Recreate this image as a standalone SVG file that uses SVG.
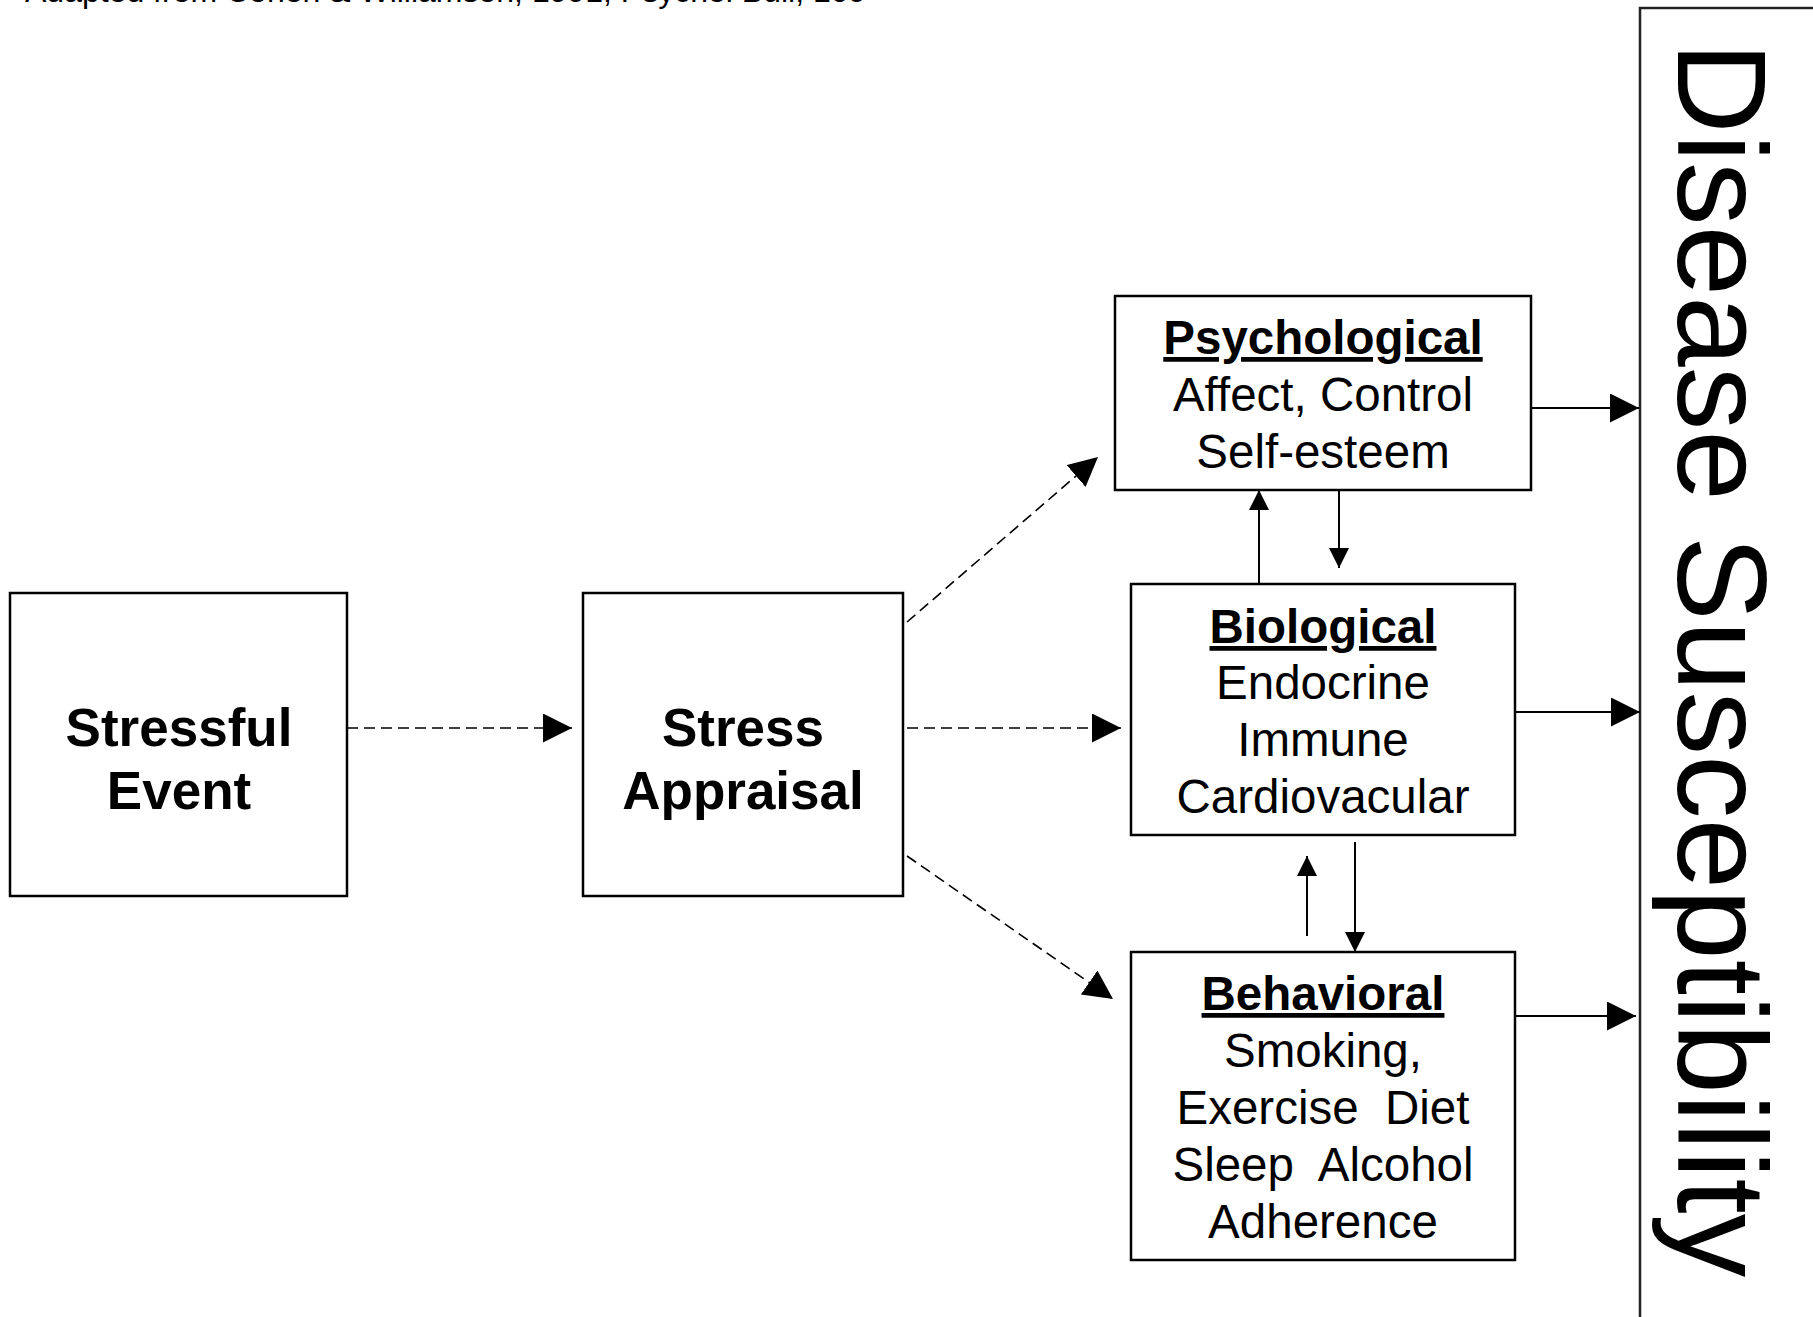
<svg xmlns="http://www.w3.org/2000/svg" width="1813" height="1317" viewBox="0 0 1813 1317">
  <style>
    .box { fill: #fff; stroke: #000; stroke-width: 2.5; }
    .t { font-family: "Liberation Sans", Arial, Helvetica, sans-serif; fill: #000; text-anchor: middle; }
    .big { font-size: 53px; font-weight: bold; }
    .hd { font-size: 47.5px; font-weight: bold; text-decoration: underline; }
    .it { font-size: 47.5px; }
    .dash { fill: none; stroke: #000; stroke-width: 1.6; stroke-dasharray: 11 6; }
    .solid { fill: none; stroke: #000; stroke-width: 2; }
    .cap { font-family: "Liberation Sans", Arial, sans-serif; font-size: 32px; fill: #000; }
  </style>
  <defs>
    <marker id="aL" viewBox="0 0 10 10" refX="10" refY="5" markerWidth="29" markerHeight="29" markerUnits="userSpaceOnUse" orient="auto">
      <path d="M0,0 L10,5 L0,10 z" fill="#000" stroke="none"/>
    </marker>
    <marker id="aS" viewBox="0 0 10 10" refX="10" refY="5" markerWidth="21" markerHeight="20" markerUnits="userSpaceOnUse" orient="auto">
      <path d="M0,0 L10,5 L0,10 z" fill="#000" stroke="none"/>
    </marker>
  </defs>

  <text class="cap" x="25" y="1.5">Adapted from Cohen &amp; Williamson, 1991, Psychol Bull, 109</text>

  <g id="disease">
    <rect x="1640" y="8" width="400" height="1400" fill="#fff" stroke="#222" stroke-width="2.5"/>
    <text x="0" y="0" transform="translate(1678,42) rotate(90)" font-family="Liberation Sans, Arial, sans-serif" font-size="127" fill="#000">Disease Susceptibility</text>
  </g>

  <g id="connectors">
    <line class="dash" x1="347" y1="728" x2="572" y2="728" marker-end="url(#aL)"/>
    <line class="dash" x1="907" y1="622" x2="1098" y2="457" marker-end="url(#aL)"/>
    <line class="dash" x1="907" y1="728" x2="1121" y2="728" marker-end="url(#aL)"/>
    <line class="dash" x1="907" y1="856" x2="1113" y2="999" marker-end="url(#aL)"/>
    <line class="solid" x1="1531" y1="408" x2="1639" y2="408" marker-end="url(#aL)"/>
    <line class="solid" x1="1515" y1="712" x2="1640" y2="712" marker-end="url(#aL)"/>
    <line class="solid" x1="1515" y1="1016" x2="1636" y2="1016" marker-end="url(#aL)"/>
    <line class="solid" x1="1259" y1="584" x2="1259" y2="490" marker-end="url(#aS)"/>
    <line class="solid" x1="1339" y1="490" x2="1339" y2="568" marker-end="url(#aS)"/>
    <line class="solid" x1="1307" y1="936" x2="1307" y2="856" marker-end="url(#aS)"/>
    <line class="solid" x1="1355" y1="842" x2="1355" y2="952" marker-end="url(#aS)"/>
  </g>

  <g id="stressful-event">
    <rect class="box" x="10" y="593" width="337" height="303"/>
    <text class="t big" x="179" y="746">Stressful</text>
    <text class="t big" x="179" y="809">Event</text>
  </g>

  <g id="stress-appraisal">
    <rect class="box" x="583" y="593" width="320" height="303"/>
    <text class="t big" x="743" y="746">Stress</text>
    <text class="t big" x="743" y="809">Appraisal</text>
  </g>

  <g id="psychological">
    <rect class="box" x="1115" y="296" width="416" height="194"/>
    <text class="t hd" x="1323" y="354">Psychological</text>
    <text class="t it" x="1323" y="411">Affect, Control</text>
    <text class="t it" x="1323" y="468">Self-esteem</text>
  </g>

  <g id="biological">
    <rect class="box" x="1131" y="584" width="384" height="251"/>
    <text class="t hd" x="1323" y="643">Biological</text>
    <text class="t it" x="1323" y="699">Endocrine</text>
    <text class="t it" x="1323" y="756">Immune</text>
    <text class="t it" x="1323" y="813">Cardiovacular</text>
  </g>

  <g id="behavioral">
    <rect class="box" x="1131" y="952" width="384" height="308"/>
    <text class="t hd" x="1323" y="1010">Behavioral</text>
    <text class="t it" x="1323" y="1067">Smoking,</text>
    <text class="t it" x="1323" y="1124">Exercise&#160; Diet</text>
    <text class="t it" x="1323" y="1181">Sleep&#160; Alcohol</text>
    <text class="t it" x="1323" y="1238">Adherence</text>
  </g>
</svg>
